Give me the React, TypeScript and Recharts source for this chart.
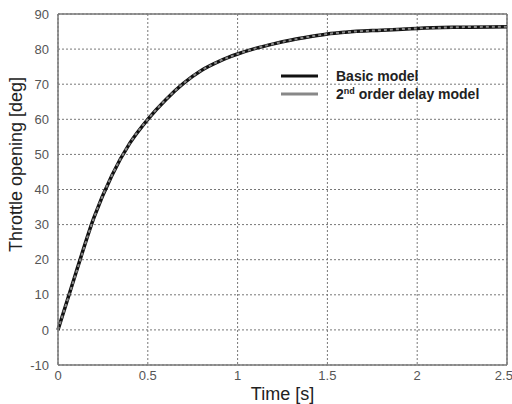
import React from 'react';
import { LineChart, Line, XAxis, YAxis, CartesianGrid, ReferenceLine } from 'recharts';

const times = [0, 0.1, 0.2, 0.3, 0.4, 0.5, 0.6, 0.7, 0.8, 0.9, 1.0, 1.1, 1.2, 1.3, 1.4, 1.5, 1.6, 1.8, 2.0, 2.2, 2.5];
const basicModel = [0, 16.3, 32, 44, 53.2, 60, 65.6, 70.3, 74, 76.6, 78.6, 80.2, 81.5, 82.6, 83.5, 84.3, 84.8, 85.4, 85.9, 86.2, 86.4];
const delayModel = [0, 16.1, 31.9, 44, 53.2, 60, 65.6, 70.3, 74, 76.6, 78.6, 80.2, 81.5, 82.6, 83.5, 84.3, 84.8, 85.4, 85.9, 86.2, 86.4];
const xTicks = [0, 0.5, 1, 1.5, 2, 2.5];
const yTicks = [-10, 0, 10, 20, 30, 40, 50, 60, 70, 80, 90];
const seriesNames = ['Basic model', '2nd order delay model'];

const data = times.map((t, i) => ({ t, basic: basicModel[i], delay: delayModel[i] }));

const font = 'Arial, "Liberation Sans", sans-serif';

const LegendBox = () => (
  <svg width={240} height={40} style={{ position: 'absolute', left: 281, top: 68, overflow: 'visible' }}>
    <line x1={0} x2={37} y1={8} y2={8} stroke="#111" strokeWidth={3} />
    <line x1={0} x2={37} y1={26} y2={26} stroke="#888" strokeWidth={3} />
    <text x={55} y={13} fontSize={14} fill="#222" fontFamily={font} fontWeight={600}>{seriesNames[0]}</text>
    <text x={55} y={31} fontSize={14} fill="#222" fontFamily={font} fontWeight={600}>
      2<tspan fontSize={9} dy={-5}>nd</tspan><tspan dy={5}> order delay model</tspan>
    </text>
  </svg>
);

export default function App() {
  return (
    <div style={{ position: 'absolute', left: 0, top: 0, width: 512, height: 404, background: '#fff' }}>
      <LineChart width={512} height={404} data={data} margin={{ top: 14, right: 5, bottom: 0, left: 0 }}>
        <CartesianGrid stroke="#777" strokeDasharray="2 2" strokeWidth={1} />
        <XAxis
          dataKey="t"
          type="number"
          domain={[0, 2.5]}
          ticks={xTicks}
          height={39}
          tickLine={false}
          axisLine={{ stroke: '#777', strokeWidth: 1.5 }}
          tick={{ fill: '#555', fontSize: 13, fontFamily: font }}
          tickMargin={0}
          label={{ value: 'Time [s]', position: 'insideBottom', offset: 4, fill: '#222', fontSize: 18, fontFamily: font }}
        />
        <YAxis
          type="number"
          domain={[-10, 90]}
          ticks={yTicks}
          width={58}
          tickLine={false}
          axisLine={{ stroke: '#777', strokeWidth: 1.5 }}
          tick={{ fill: '#555', fontSize: 13, fontFamily: font }}
          tickMargin={3}
          label={{ value: 'Throttle opening [deg]', angle: -90, position: 'insideLeft', offset: 16, dy: -25, fill: '#222', fontSize: 18, fontFamily: font, style: { textAnchor: 'middle' } }}
        />
        <ReferenceLine y={90} stroke="#777" strokeWidth={1.5} />
        <ReferenceLine x={2.5} stroke="#777" strokeWidth={1.5} />
        <Line type="monotone" dataKey="basic" stroke="#111" strokeWidth={3.5} dot={false} isAnimationActive={false} />
        <Line type="monotone" dataKey="delay" stroke="#888" strokeWidth={2} strokeDasharray="3 3" dot={false} isAnimationActive={false} />
      </LineChart>
      <LegendBox />
    </div>
  );
}
